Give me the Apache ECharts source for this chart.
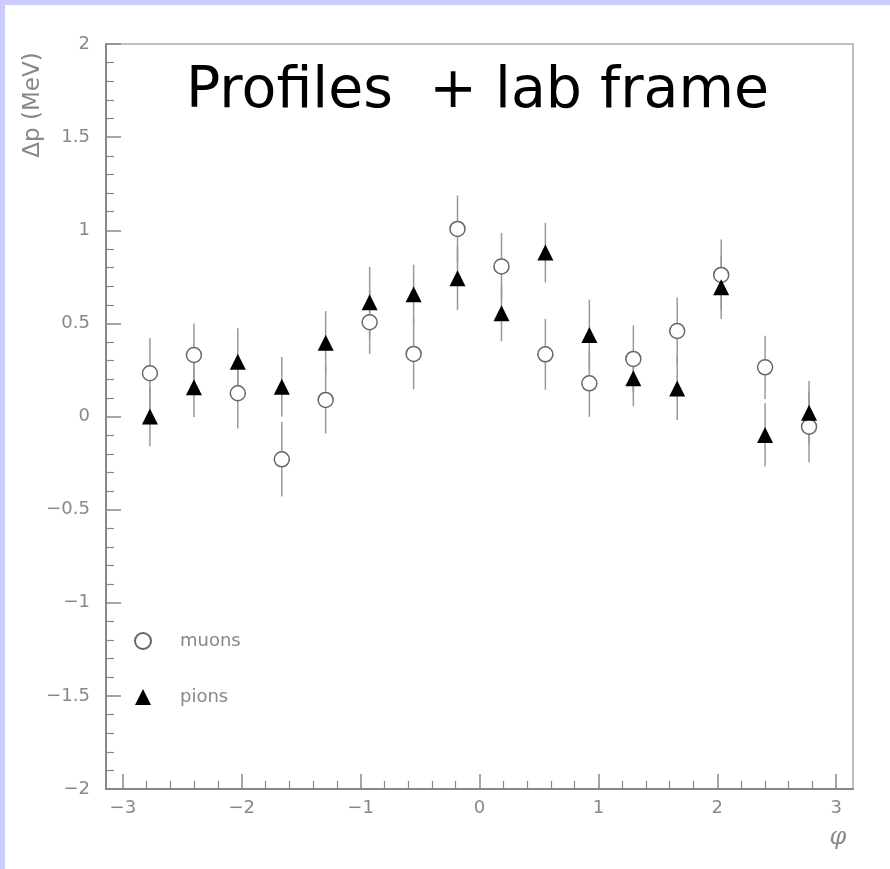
<!DOCTYPE html>
<html>
<head>
<meta charset="utf-8">
<script src="https://cdn.jsdelivr.net/npm/echarts@6/dist/echarts.min.js"></script>
<style>
  html, body { margin: 0; padding: 0; background: #ccccff; }
  #chart { position: absolute; left: 5px; top: 5px; width: 885px; height: 864px; background: #fff; }
</style>
</head>
<body>
<div id="chart"></div>
<script>
// bin centres in phi
const phi = [-2.772, -2.402, -2.033, -1.663, -1.294, -0.924, -0.554, -0.185,
  0.185, 0.554, 0.924, 1.294, 1.663, 2.033, 2.402, 2.772]
const muons = [0.232, 0.330, 0.125, -0.230, 0.089, 0.506, 0.336, 1.007,
  0.806, 0.334, 0.178, 0.309, 0.459, 0.760, 0.264, -0.055]
const muonErr = [0.19, 0.17, 0.19, 0.20, 0.18, 0.17, 0.19, 0.18,
  0.18, 0.19, 0.18, 0.18, 0.18, 0.19, 0.17, 0.19]
const pions = [0.0, 0.157, 0.294, 0.160, 0.396, 0.613, 0.656, 0.742,
  0.554, 0.880, 0.438, 0.205, 0.151, 0.694, -0.099, 0.020]
const pionErr = [0.16, 0.16, 0.18, 0.16, 0.17, 0.19, 0.16, 0.17,
  0.15, 0.16, 0.19, 0.15, 0.17, 0.17, 0.17, 0.17]
const xMajor = [-3, -2, -1, 0, 1, 2, 3]
const xMinor = []
for (let i = -15; i <= 15; i++) {
  if (i % 5 !== 0) xMinor.push(i / 5)
}

const fmt = v => String(v).replace('-', '\u2212')
const gray = '#888'

const errData = (ys, es) => phi.map((x, i) => [x, ys[i] - es[i], ys[i] + es[i]])

const errRender = (params, api) => {
  const lo = api.coord([api.value(0), api.value(1)])
  const hi = api.coord([api.value(0), api.value(2)])
  return {
    type: 'line',
    shape: { x1: lo[0], y1: lo[1], x2: hi[0], y2: hi[1] },
    style: { stroke: '#999', lineWidth: 1.5 },
  }
}

const chart = echarts.init(document.getElementById('chart'))
chart.setOption({
  animation: false,
  textStyle: { fontFamily: 'DejaVu Sans' },
  title: {
    text: 'Profiles  + lab frame',
    left: 176,
    top: 54,
    textStyle: { fontSize: 57, fontWeight: 'normal', color: '#000', fontFamily: 'DejaVu Sans' },
  },
  grid: {
    left: 101, top: 39, right: 37, bottom: 80,
    show: true, borderColor: '#aaa', borderWidth: 1.5,
  },
  legend: {
    orient: 'vertical',
    left: 124,
    top: 622,
    itemWidth: 16,
    itemHeight: 16,
    itemGap: 38,
    data: ['muons', 'pions'],
    textStyle: { color: gray, fontSize: 18, padding: [0, 0, 0, 24] },
  },
  xAxis: [
    {
      type: 'value', min: -Math.PI, max: Math.PI,
      axisLine: { onZero: false, lineStyle: { color: gray, width: 2 } },
      axisTick: { inside: true, length: 15, customValues: xMajor, lineStyle: { color: gray, width: 1.5 } },
      axisLabel: { customValues: xMajor, formatter: fmt, color: gray, fontSize: 18, margin: 10 },
      splitLine: { show: false },
    },
    {
      type: 'value', min: -Math.PI, max: Math.PI, position: 'bottom',
      axisLine: { show: false, onZero: false },
      axisTick: { inside: true, length: 8, customValues: xMinor, lineStyle: { color: gray, width: 1.2 } },
      axisLabel: { show: false },
      splitLine: { show: false },
    },
  ],
  yAxis: {
    type: 'value', min: -2, max: 2, interval: 0.5,
    axisLine: { show: true, onZero: false, lineStyle: { color: gray, width: 2 } },
    axisTick: { inside: true, length: 15, lineStyle: { color: gray, width: 1.5 } },
    minorTick: { show: true, splitNumber: 5, length: 8, lineStyle: { color: gray, width: 1.2 } },
    axisLabel: { formatter: fmt, color: gray, fontSize: 18, margin: 16 },
    splitLine: { show: false },
    minorSplitLine: { show: false },
  },
  graphic: [
    {
      type: 'text', x: 28, y: 100, rotation: Math.PI / 2,
      style: { text: '\u0394p (MeV)', fill: gray, fontSize: 23, fontFamily: 'DejaVu Sans', align: 'center', verticalAlign: 'middle' },
    },
    {
      type: 'text', x: 833, y: 833,
      style: { text: '\u03c6', fill: gray, fontSize: 24, fontStyle: 'italic', fontFamily: 'DejaVu Serif', align: 'center', verticalAlign: 'middle' },
    },
  ],
  series: [
    { name: 'muonErr', type: 'custom', renderItem: errRender, data: errData(muons, muonErr), z: 1 },
    { name: 'pionErr', type: 'custom', renderItem: errRender, data: errData(pions, pionErr), z: 1 },
    {
      name: 'muons', type: 'scatter', symbol: 'circle', symbolSize: 15,
      itemStyle: { color: '#fff', borderColor: '#666', borderWidth: 1.5, opacity: 1 },
      data: phi.map((x, i) => [x, muons[i]]), z: 3,
    },
    {
      name: 'pions', type: 'scatter', symbol: 'triangle', symbolSize: 16,
      itemStyle: { color: '#000', opacity: 1 },
      data: phi.map((x, i) => [x, pions[i]]), z: 4,
    },
  ],
})
</script>
</body>
</html>
